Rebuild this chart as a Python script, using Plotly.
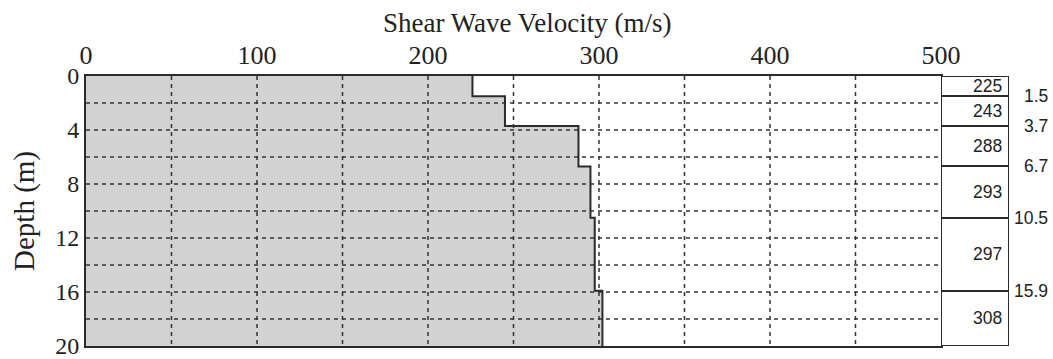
import numpy as np
import plotly.graph_objects as go

# Layer data (table labels)
layer_tops = [0, 1.5, 3.7, 6.7, 10.5, 15.9]
layer_bottoms = [1.5, 3.7, 6.7, 10.5, 15.9, 20]
layer_vs = [225, 243, 288, 293, 297, 308]
boundary_labels = ["1.5", "3.7", "6.7", "10.5", "15.9"]

# Profile as drawn (velocities)
profile_vs = [226, 245, 288, 295, 297.5, 302]

x_ticks = [0, 100, 200, 300, 400, 500]
y_ticks = [0, 4, 8, 12, 16, 20]

SERIF = "Liberation Serif, Times New Roman, serif"
SANS = "Liberation Sans, Arial, sans-serif"
LINE = "#2b2b2b"
FILL = "#d1d2d4"

# step coordinates
px, py = [], []
for v, t, b in zip(profile_vs, layer_tops, layer_bottoms):
    px += [v, v]
    py += [t, b]

fig = go.Figure()

# filled area
fig.add_trace(go.Scatter(x=px, y=py, mode="lines", fill="tozerox",
                         fillcolor=FILL, line=dict(width=0), hoverinfo="skip",
                         showlegend=False, xaxis="x", yaxis="y"))

# dashed grid on top of fill
gx, gy = [], []
for xv in np.arange(50, 500, 50):
    gx += [xv, xv, None]
    gy += [0, 20, None]
for yv in np.arange(2, 20, 2):
    gx += [0, 500, None]
    gy += [yv, yv, None]
fig.add_trace(go.Scatter(x=gx, y=gy, mode="lines",
                         line=dict(color="#333333", width=1.5, dash="4px,4px"),
                         hoverinfo="skip", showlegend=False, xaxis="x", yaxis="y"))

# profile line
fig.add_trace(go.Scatter(x=px, y=py, mode="lines",
                         line=dict(color=LINE, width=2), hoverinfo="skip",
                         showlegend=False, xaxis="x", yaxis="y"))

# table boxes on right
thick = [b - t for t, b in zip(layer_tops, layer_bottoms)]
fig.add_trace(go.Bar(x=[0.5] * len(thick), y=thick, base=layer_tops, width=1,
                     marker=dict(color="white", line=dict(color=LINE, width=2)),
                     hoverinfo="skip", showlegend=False, xaxis="x2", yaxis="y"))

annotations = []
for t, b, v in zip(layer_tops, layer_bottoms, layer_vs):
    annotations.append(dict(x=0.92, xref="x2", y=(t + b) / 2, yref="y",
                            text=str(v), showarrow=False, xanchor="right",
                            yanchor="middle", font=dict(family=SANS, size=17.5, color="#222")))
for d, lab in zip(layer_bottoms[:-1], boundary_labels):
    annotations.append(dict(x=1.0444, xref="paper", y=d, yref="y", text=lab,
                            showarrow=False, xanchor="right", yanchor="middle",
                            font=dict(family=SANS, size=17.5, color="#222")))
annotations.append(dict(x=0.4783, xref="paper", y=1.195, yref="paper",
                        text="Shear Wave Velocity (m/s)", showarrow=False,
                        xanchor="center", yanchor="middle",
                        font=dict(family=SERIF, size=27, color="#222")))
annotations.append(dict(x=-0.0672, xref="paper", y=0.5, yref="paper",
                        text="Depth (m)", showarrow=False, textangle=-90,
                        xanchor="center", yanchor="middle",
                        font=dict(family=SERIF, size=29, color="#222")))

dom = 855 / 923
fig.update_layout(
    width=1053, height=359,
    margin=dict(l=86, r=44, t=76, b=13),
    paper_bgcolor="white", plot_bgcolor="white",
    showlegend=False, bargap=0,
    xaxis=dict(domain=[0, dom], range=[0, 500], side="top", automargin=False,
               tickvals=x_ticks, ticks="", showgrid=False, zeroline=False,
               showline=True, linecolor=LINE, linewidth=2, mirror=True,
               ticklabeloverflow="allow",
               tickfont=dict(family=SERIF, size=26, color="#222")),
    xaxis2=dict(domain=[dom, 1], range=[0, 1], visible=False, anchor="y",
                automargin=False),
    yaxis=dict(range=[20, 0], tickvals=y_ticks, ticks="", showgrid=False,
               zeroline=False, showline=True, linecolor=LINE, linewidth=2,
               mirror=True, ticklabeloverflow="allow", automargin=False,
               tickfont=dict(family=SERIF, size=24, color="#222")),
    annotations=annotations,
)

fig.write_html("out.html", config={"displayModeBar": False},
               post_script="document.body.style.margin='0';document.body.style.overflow='hidden';")
